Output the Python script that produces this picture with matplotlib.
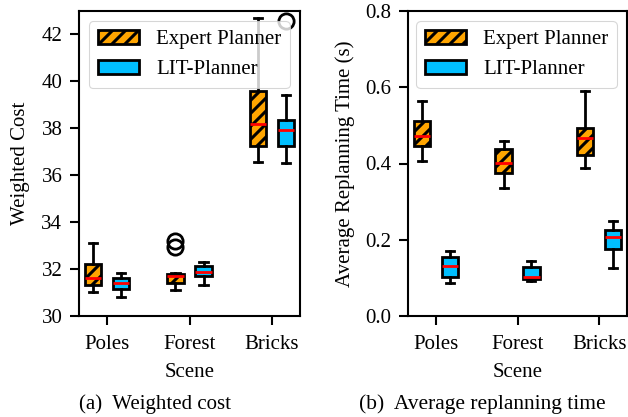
import matplotlib
matplotlib.use('Agg')
import matplotlib.pyplot as plt
from matplotlib.patches import Patch

# figure is rendered at 78 dpi (gives wider hatch stripes); S rescales sizes given in 100-dpi points
DPI = 78
S = 100 / DPI
FS = 15 * S
LW = 2 * S

plt.rcParams['font.family'] = 'serif'
plt.rcParams['font.serif'] = ['Liberation Serif', 'DejaVu Serif']
plt.rcParams['hatch.linewidth'] = 2.2 * S
plt.rcParams['axes.linewidth'] = 1.5 * S

scenes = ['Poles', 'Forest', 'Bricks']
labels = ['Expert Planner', 'LIT-Planner']

# weighted cost: whisker low, q1, median, q3, whisker high, outliers
cost_expert_lo = [31.03, 31.10, 36.56]
cost_expert_q1 = [31.34, 31.41, 37.24]
cost_expert_med = [31.60, 31.70, 38.17]
cost_expert_q3 = [32.23, 31.81, 39.61]
cost_expert_hi = [33.13, 31.84, 42.69]
cost_expert_out = [[], [33.18, 32.96], []]

cost_lit_lo = [30.83, 31.31, 36.54]
cost_lit_q1 = [31.14, 31.71, 37.24]
cost_lit_med = [31.40, 31.89, 37.93]
cost_lit_q3 = [31.64, 32.14, 38.36]
cost_lit_hi = [31.84, 32.31, 39.40]
cost_lit_out = [[], [], [42.57]]

# average replanning time (s)
time_expert_lo = [0.406, 0.335, 0.389]
time_expert_q1 = [0.446, 0.375, 0.421]
time_expert_med = [0.471, 0.401, 0.468]
time_expert_q3 = [0.512, 0.439, 0.492]
time_expert_hi = [0.565, 0.460, 0.589]
time_expert_out = [[], [], []]

time_lit_lo = [0.087, 0.093, 0.125]
time_lit_q1 = [0.103, 0.097, 0.177]
time_lit_med = [0.132, 0.1035, 0.207]
time_lit_q3 = [0.155, 0.128, 0.226]
time_lit_hi = [0.170, 0.144, 0.249]
time_lit_out = [[], [], []]


def make_stats(lo, q1, med, q3, hi, out):
    return [dict(whislo=a, q1=b, med=c, q3=d, whishi=e, fliers=f)
            for a, b, c, d, e, f in zip(lo, q1, med, q3, hi, out)]


def draw(ax, expert, lit):
    pos = range(1, len(scenes) + 1)
    common = dict(widths=0.2, patch_artist=True, manage_ticks=False,
                  whiskerprops=dict(color='black', lw=LW),
                  capprops=dict(color='black', lw=LW),
                  medianprops=dict(color='red', lw=LW),
                  flierprops=dict(marker='o', markersize=11 * S, markerfacecolor='none',
                                  markeredgecolor='black', markeredgewidth=LW))
    ax.bxp(expert, positions=[p - 0.17 for p in pos],
           boxprops=dict(facecolor='orange', edgecolor='black', hatch='//', lw=LW), **common)
    ax.bxp(lit, positions=[p + 0.17 for p in pos],
           boxprops=dict(facecolor='deepskyblue', edgecolor='black', lw=LW), **common)
    ax.set_xticks(list(pos))
    ax.set_xticklabels(scenes)
    ax.set_xlim(0.66, 3.34)
    ax.set_xlabel('Scene', fontsize=FS, labelpad=6.3 * S)
    ax.tick_params(labelsize=FS, width=1.5 * S, length=6.5 * S)
    ax.tick_params(axis='x', pad=7.4 * S)
    ax.tick_params(axis='y', pad=5.5 * S)
    handles = [Patch(facecolor='orange', edgecolor='black', hatch='//', lw=LW),
               Patch(facecolor='deepskyblue', edgecolor='black', lw=LW)]
    ax.legend(handles, labels, loc='upper right', fontsize=FS)


fig = plt.figure(figsize=(628 / DPI, 417 / DPI), dpi=DPI)
ax1 = fig.add_axes([79 / 628, 101 / 417, 221 / 628, 305 / 417])
ax2 = fig.add_axes([408 / 628, 101 / 417, 219 / 628, 305 / 417])

draw(ax1, make_stats(cost_expert_lo, cost_expert_q1, cost_expert_med, cost_expert_q3,
                     cost_expert_hi, cost_expert_out),
     make_stats(cost_lit_lo, cost_lit_q1, cost_lit_med, cost_lit_q3, cost_lit_hi, cost_lit_out))
ax1.set_ylim(30, 43)
ax1.set_yticks([30, 32, 34, 36, 38, 40, 42])
ax1.set_ylabel('Weighted Cost', fontsize=FS, labelpad=8 * S)

draw(ax2, make_stats(time_expert_lo, time_expert_q1, time_expert_med, time_expert_q3,
                     time_expert_hi, time_expert_out),
     make_stats(time_lit_lo, time_lit_q1, time_lit_med, time_lit_q3, time_lit_hi, time_lit_out))
ax2.set_ylim(0, 0.8)
ax2.set_yticks([0.0, 0.2, 0.4, 0.6, 0.8])
ax2.set_ylabel('Average Replanning Time (s)', fontsize=FS, labelpad=7.5 * S)

fig.text(155 / 628, 1 - 404 / 417, '(a)  Weighted cost', ha='center', va='center', fontsize=FS)
fig.text(482 / 628, 1 - 404 / 417, '(b)  Average replanning time', ha='center', va='center',
         fontsize=15.5 * S)

fig.savefig('out.png', dpi=DPI)
